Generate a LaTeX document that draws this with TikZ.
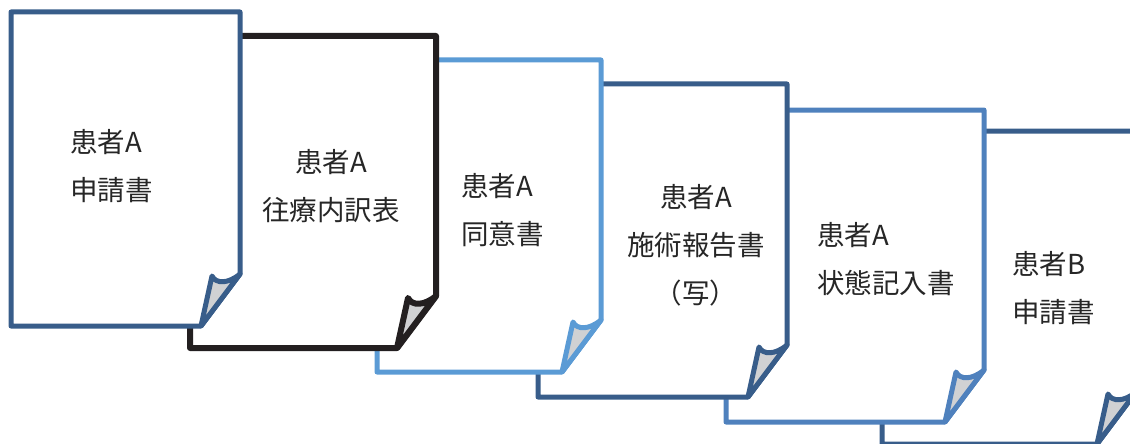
\documentclass[tikz,border=0pt]{standalone}
\usepackage{fontspec}
\newfontfamily\cjk{Noto Sans CJK JP}
\definecolor{pgA}{HTML}{385D8A}
\definecolor{pgK}{HTML}{231F20}
\definecolor{pgL}{HTML}{5B9BD5}
\definecolor{pgM}{HTML}{4F81BD}
\definecolor{flapgray}{HTML}{D0D1D3}
\tikzset{
 pageline/.style={line width=5pt, line join=round, fill=white},
 flapline/.style={line width=5pt, line join=round, fill=flapgray},
 doctext/.style={font=\cjk\fontsize{27.5}{48}\selectfont, text=black!85, inner sep=0pt},
}
\newcommand\docpage[6][5pt]{%
 \draw[pageline,draw=#6,line width=#1] (#2,#3) -- (#4,#3) -- (#4,#5-52) -- (#4-39,#5) -- (#2,#5) -- cycle;
 \draw[flapline,draw=#6,line width=#1] (#4-39,#5) -- (#4-28,#5-50) .. controls (#4-24,#5-42) and (#4-12,#5-42) .. (#4,#5-52) -- cycle;
}
\begin{document}
\begin{tikzpicture}[x=1pt,y=-1pt]
\useasboundingbox (0,0) rectangle (1130,444);
\clip (0,0) rectangle (1130,444);
\docpage{882}{131}{1136}{444}{pgA}
\docpage{726}{110}{984}{422}{pgM}
\docpage{538}{84}{787}{397}{pgA}
\docpage{377}{60}{601}{372}{pgL}
\docpage[6pt]{190}{36}{436}{348}{pgK}
\docpage{11}{12}{240}{326}{pgA}
\node[doctext, align=left, anchor=west] (t1) at (70,166.5) {患者A\\申請書};
\node[doctext, align=center] (t2) at (331,186.5) {患者A\\往療内訳表};
\node[doctext, align=left, anchor=west] (t3) at (461,210.5) {患者A\\同意書};
\node[doctext, align=center] (t4) at (696,245) {患者A\\施術報告書\\（写）};
\node[doctext, align=left, anchor=west] (t5) at (817,259.5) {患者A\\状態記入書};
\node[doctext, align=left, anchor=west] (t6) at (1012,288) {患者B\\申請書};
\end{tikzpicture}
\end{document}
